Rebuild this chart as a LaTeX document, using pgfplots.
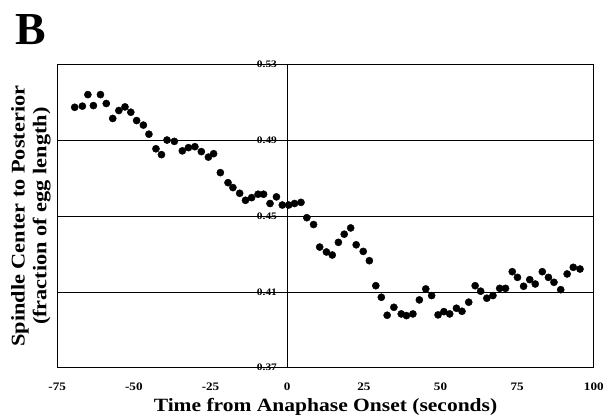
\documentclass[border=0pt]{standalone}
\usepackage{pgfplots}
\pgfplotsset{compat=1.18}
\usepackage{fontspec}
\setmainfont{Liberation Serif}
\newfontfamily\lab{Liberation Serif}[FakeStretch=1.15]

\begin{document}
\begin{tikzpicture}
  \begin{axis}[
      name=ax,
      scale only axis,
      width=539.2pt, height=304.5pt,
      xmin=-75, xmax=100,
      ymin=0.37, ymax=0.53,
      xtick={-75,-50,-25,0,25,50,75,100},
      xticklabels={-75,-50,-25,0,25,50,75,100},
      ytick={0.37,0.41,0.45,0.49,0.53},
      yticklabels={0.37,0.41,0.45,0.49,0.53},
      major tick length=0pt,
      ymajorgrids=true,
      major grid style={black, line width=0.8pt},
      extra x ticks={0},
      extra x tick labels={},
      extra x tick style={grid=major, major grid style={black, line width=1.1pt}},
      axis line style={black, line width=1.3pt},
      xticklabel style={font=\lab\bfseries\fontsize{11.5}{12}\selectfont, anchor=base, yshift=-23pt},
      yticklabel style={font=\lab\bfseries\fontsize{10}{11}\selectfont, anchor=base east,
        xshift=222pt, yshift=-3.2pt, inner sep=1pt},
      xlabel={Time from Anaphase Onset (seconds)},
      xlabel style={font=\lab\bfseries\fontsize{18.8}{20}\selectfont,
        at={(axis description cs:0.5,0)}, anchor=base, yshift=-44pt},
      ylabel={Spindle Center to Posterior\\(fraction of egg length)},
      ylabel style={font=\lab\bfseries\fontsize{19.5}{22}\selectfont, align=center,
        at={(axis description cs:-0.0491,0.5)}, anchor=center},
      clip=false,
    ]
    \addplot[only marks, mark=*, mark size=3.6pt, black] coordinates {
      (-69.3,0.5075)(-66.8,0.5081)(-65.0,0.5142)(-63.2,0.5084)(-60.9,0.5142)
      (-59.0,0.5095)(-56.9,0.5016)(-54.9,0.5058)(-52.9,0.5077)(-51.0,0.5049)
      (-49.1,0.5005)(-46.9,0.4981)(-45.1,0.4933)(-42.8,0.4856)(-41.0,0.4825)
      (-39.2,0.4902)(-36.8,0.4895)(-34.2,0.4845)(-32.2,0.4862)(-30.1,0.4867)
      (-28.0,0.4841)(-25.7,0.4812)(-24.0,0.4830)(-21.8,0.4730)(-19.3,0.4677)
      (-17.7,0.4651)(-15.5,0.4621)(-13.6,0.4584)(-11.6,0.4598)(-9.5,0.4616)
      (-7.7,0.4616)(-5.6,0.4567)(-3.5,0.4602)(-1.6,0.4559)(0.5,0.4559)
      (2.4,0.4567)(4.5,0.4573)(6.4,0.4492)(8.6,0.4456)(10.6,0.4337)
      (12.8,0.4311)(14.7,0.4295)(16.7,0.4362)(18.6,0.4405)(20.7,0.4438)
      (22.5,0.4349)(24.8,0.4314)(26.8,0.4265)(28.9,0.4133)(30.7,0.4072)
      (32.6,0.3977)(34.8,0.4019)(37.2,0.3984)(38.9,0.3975)(41.0,0.3984)
      (43.1,0.4058)(45.2,0.4116)(47.1,0.4081)(49.2,0.3979)(51.1,0.3996)
      (53.0,0.3984)(55.2,0.4014)(57.0,0.3998)(59.2,0.4046)(61.3,0.4133)
      (63.1,0.4104)(65.1,0.4067)(67.1,0.4081)(69.3,0.4119)(71.2,0.4119)
      (73.4,0.4207)(75.1,0.4177)(77.1,0.4130)(79.1,0.4165)(80.9,0.4142)
      (83.2,0.4207)(85.2,0.4177)(87.0,0.4151)(89.2,0.4112)(91.3,0.4195)
      (93.3,0.4230)(95.5,0.4221)
    };
  \end{axis}
  \node[anchor=base west, inner sep=0pt, font=\bfseries\fontsize{46}{46}\selectfont]
    at ([shift={(-42.5pt,20pt)}]ax.north west) {B};
  \path ([shift={(-57.5pt,-49.5pt)}]ax.south west) rectangle ([shift={(10.3pt,65pt)}]ax.north east);
\end{tikzpicture}
\end{document}
